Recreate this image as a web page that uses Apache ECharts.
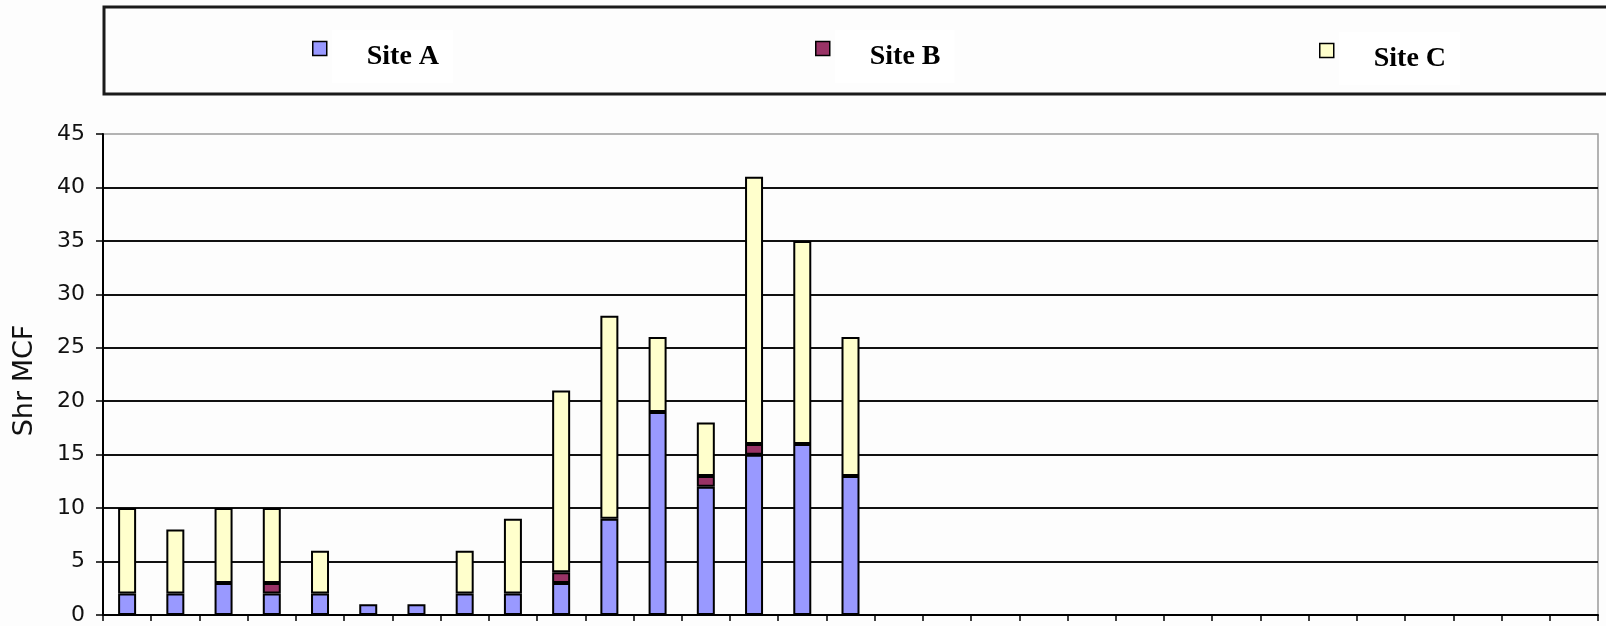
<!DOCTYPE html>
<html>
<head>
<meta charset="utf-8">
<script src="https://cdn.jsdelivr.net/npm/echarts@6/dist/echarts.min.js"></script>
<style>
html,body{margin:0;padding:0;background:#fdfdfd;}
#chart{width:1606px;height:626px;}
</style>
</head>
<body>
<div id="chart"></div>
<script>
// Categories: 31 slots along the x axis (days), only the first 16 carry data
const categories = ['1','2','3','4','5','6','7','8','9','10','11','12','13','14','15','16',
  '17','18','19','20','21','22','23','24','25','26','27','28','29','30','31'];
const siteA = [2, 2, 3, 2, 2, 1, 1, 2, 2, 3, 9, 19, 12, 15, 16, 13,
  null, null, null, null, null, null, null, null, null, null, null, null, null, null, null];
const siteB = [null, null, null, 1, null, null, null, null, null, 1, null, null, 1, 1, null, null,
  null, null, null, null, null, null, null, null, null, null, null, null, null, null, null];
const siteC = [8, 6, 7, 7, 4, null, null, 4, 7, 17, 19, 7, 5, 25, 19, 13,
  null, null, null, null, null, null, null, null, null, null, null, null, null, null, null];
const seriesNames = ['Site A', 'Site B', 'Site C'];
const seriesColors = ['#9999ff', '#993366', '#ffffcc'];
const yTicks = { min: 0, max: 45, interval: 5 };
const yAxisName = 'Shr MCF';

const chart = echarts.init(document.getElementById('chart'), null, { renderer: 'canvas' });

// square legend marker sitting in the upper part of a taller icon box
const markerIcon = 'path://M0,0h14v14h-14z M7,30';

function legendFor(i, left, top) {
  return {
    data: [seriesNames[i]],
    left: left,
    top: top,
    padding: 5,
    icon: markerIcon,
    itemWidth: 14,
    itemHeight: 30,
    itemGap: 5,
    selectedMode: false,
    itemStyle: { borderColor: '#000', borderWidth: 1.5 },
    textStyle: {
      fontFamily: 'Liberation Serif',
      fontWeight: 'bold',
      fontSize: 28,
      color: '#000',
      lineHeight: 31,
      backgroundColor: '#ffffff',
      padding: [11, 14, 11, 35]
    }
  };
}

const barStyle = { borderColor: '#000', borderWidth: 2 };

chart.setOption({
  backgroundColor: '#fdfdfd',
  animation: false,
  graphic: [{
    type: 'rect',
    z: -1,
    shape: { x: 104, y: 7, width: 1520, height: 87 },
    style: { fill: 'none', stroke: '#1a1a1a', lineWidth: 3 }
  }],
  legend: [
    legendFor(0, 307, 25),
    legendFor(1, 810, 25),
    legendFor(2, 1314, 27)
  ],
  grid: {
    left: 103, right: 8, top: 134, bottom: 9,
    show: true, borderColor: '#9a9a9a', borderWidth: 1.5, backgroundColor: 'transparent'
  },
  xAxis: {
    type: 'category',
    data: categories,
    boundaryGap: true,
    axisLine: { lineStyle: { color: '#000', width: 2 } },
    axisTick: { show: true, length: 6, inside: false, lineStyle: { color: '#000', width: 1.5 } },
    axisLabel: { show: false },
    splitLine: { show: false }
  },
  yAxis: {
    type: 'value',
    min: yTicks.min, max: yTicks.max, interval: yTicks.interval,
    name: yAxisName,
    nameLocation: 'middle',
    nameGap: 65,
    nameTextStyle: { fontFamily: 'DejaVu Sans', fontSize: 27, color: '#111', padding: [0, 12, 0, 0] },
    axisLine: { show: true, lineStyle: { color: '#000', width: 2 } },
    axisTick: { show: true, length: 7, inside: false, lineStyle: { color: '#000', width: 1.5 } },
    axisLabel: { fontFamily: 'DejaVu Sans', fontSize: 22, color: '#111', margin: 18 },
    splitLine: { show: true, showMaxLine: false, lineStyle: { color: '#111', width: 2 } }
  },
  series: seriesNames.map((name, i) => ({
    name: name,
    type: 'bar',
    stack: 'total',
    barWidth: 18,
    data: [siteA, siteB, siteC][i],
    itemStyle: Object.assign({ color: seriesColors[i] }, barStyle)
  }))
});
</script>
</body>
</html>
